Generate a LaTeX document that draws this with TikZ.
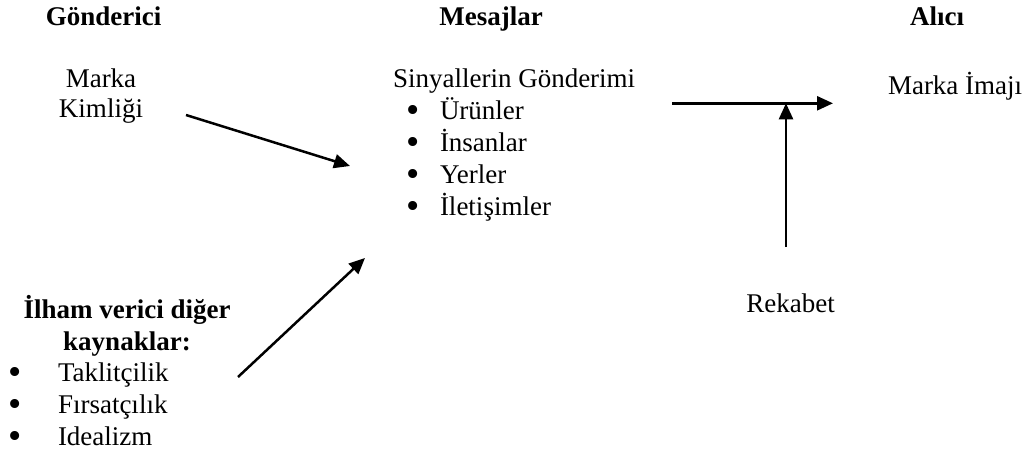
\documentclass[tikz,border=0pt]{standalone}
\usepackage{fontspec}
\setmainfont{Liberation Serif}
\usetikzlibrary{arrows.meta}
% a slightly larger list bullet, kept centred on the text
\newcommand{\listdot}{\raisebox{-3pt}{\scalebox{1.4}{\textbullet}}}
\begin{document}
\begin{tikzpicture}[x=1pt,y=-1pt,
  every node/.style={inner sep=0pt,outer sep=0pt,font=\fontsize{27}{31.75}\selectfont},
  head/.style={anchor=base,font=\fontsize{27}{31.75}\selectfont\bfseries},
  txt/.style={anchor=base,align=center},
  lst/.style={anchor=base west,align=left},
  flow/.style={line width=2.5pt,-{Triangle[length=16pt,width=14pt]}}]
  \useasboundingbox (0,0) rectangle (1030,457);
  % column headings
  \node[head] (snd) at (103.5,25.5) {Gönderici};
  \node[head] (msg) at (491,25.5) {Mesajlar};
  \node[head] (rcv) at (937,25.5) {Alıcı};
  % sender side (multi-line nodes sit on the baseline of their last line)
  \node[txt] (ident) at (101,117.5) {Marka\\[-2pt]Kimliği};
  \node[head,align=center] (insp) at (127,350) {İlham verici diğer\\kaynaklar:};
  \node[lst] (srcs) at (8.7,445) {\makebox[49.3pt][l]{\listdot}Taklitçilik\\
    \makebox[49.3pt][l]{\listdot}Fırsatçılık\\
    \makebox[49.3pt][l]{\listdot}Idealizm};
  % messages
  \node[lst] (sig) at (393,215) {Sinyallerin Gönderimi\\
    \hspace*{13.4pt}\makebox[33.6pt][l]{\listdot}Ürünler\\
    \hspace*{13.4pt}\makebox[33.6pt][l]{\listdot}İnsanlar\\
    \hspace*{13.4pt}\makebox[33.6pt][l]{\listdot}Yerler\\
    \hspace*{13.4pt}\makebox[33.6pt][l]{\listdot}İletişimler};
  % receiver side
  \node[anchor=base west] (img) at (888,95) {Marka İmajı};
  \node[txt] (comp) at (790.5,312) {Rekabet};
  % connector end points
  \coordinate (identOut) at (186,115);
  \coordinate (sigInA) at (350,166);
  \coordinate (inspOut) at (238,377);
  \coordinate (sigInB) at (365,258);
  \coordinate (sigOut) at (672,103.3);
  \coordinate (imgIn) at (833,103.3);
  \coordinate (compOut) at (786,247);
  \coordinate (join) at (786,103.3);
  % connectors
  \draw[flow] (identOut) -- (sigInA);
  \draw[flow] (inspOut) -- (sigInB);
  \draw[flow] (sigOut) -- (imgIn);
  \draw[flow] (compOut) -- (join);
\end{tikzpicture}
\end{document}
